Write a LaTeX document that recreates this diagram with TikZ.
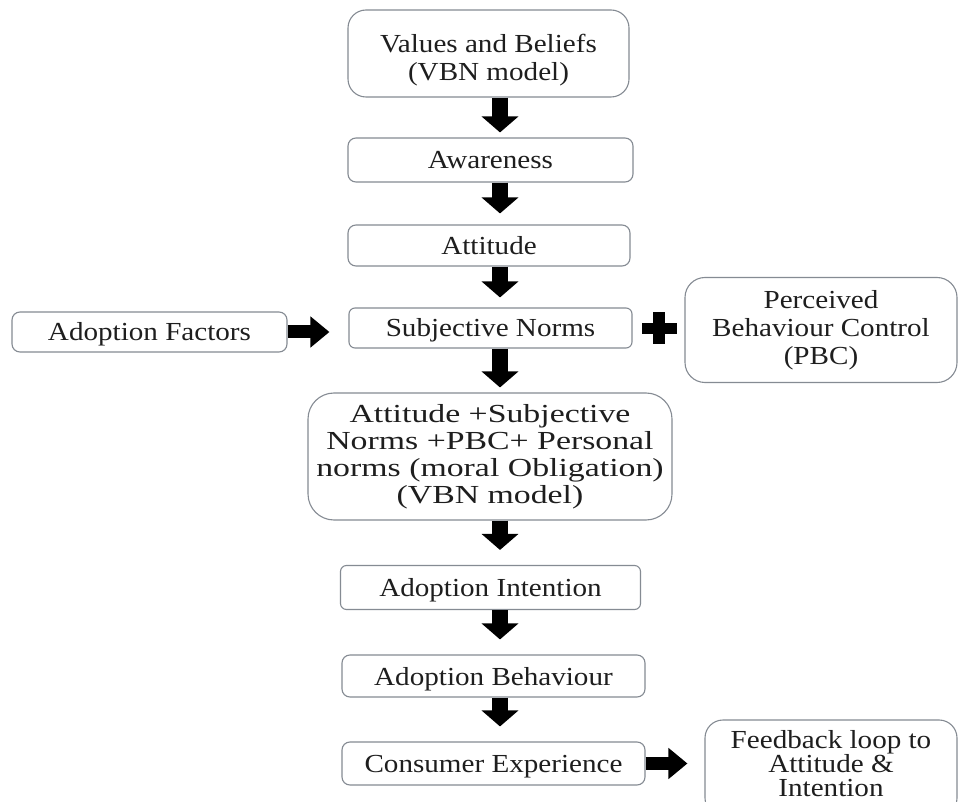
\documentclass[tikz,border=0pt]{standalone}
\usepackage{fontspec}
\setmainfont{Liberation Serif}[FakeStretch=1.12]
\newfontfamily\widefont{Liberation Serif}[FakeStretch=1.3]
\usetikzlibrary{arrows.meta,calc}
\definecolor{bordergray}{HTML}{858B93}
\definecolor{txt}{HTML}{1E1E1E}
\begin{document}
\begin{tikzpicture}[x=1pt,y=-1pt,
  box/.style={draw=bordergray, line width=1.1pt, fill=white, rounded corners=8pt,
    align=center, inner sep=0pt, text=txt, font=\fontsize{26}{28}\selectfont},
  oneline/.style={text height=20pt, text depth=2pt},
  varrow/.style={line width=16pt, draw=black, -{Triangle[length=16pt,width=36pt]}},
  harrow/.style={line width=13pt, draw=black, -{Triangle[length=19pt,width=30pt]}}]
\useasboundingbox (0,0) rectangle (959,802);
\clip (0,0) rectangle (959,802);
\fill[white] (0,0) rectangle (959,802);

\node[box, rounded corners=18pt, minimum width=281pt, minimum height=87pt] (vb) at (488.5,53.5) {\rule{0pt}{32pt}Values and Beliefs\\(VBN model)};
\node[box, oneline, minimum width=285pt, minimum height=44pt] (aw) at (490.5,160) {Awareness};
\node[box, oneline, minimum width=282pt, minimum height=41pt] (at) at (489,245.5) {Attitude};
\node[box, oneline, rounded corners=6pt, minimum width=283pt, minimum height=40pt] (sn) at (490.5,328) {Subjective Norms};
\node[box, oneline, minimum width=275pt, minimum height=40pt] (af) at (149.5,332) {Adoption Factors};
\node[box, rounded corners=20pt, minimum width=272pt, minimum height=105pt] (pbc) at (821,330) {Perceived\\Behaviour Control\\(PBC)};
\node[box, rounded corners=26pt, minimum width=364pt, minimum height=127pt, font=\widefont\fontsize{26}{27}\selectfont] (comb) at (490,456.5) {Attitude +Subjective\\Norms +PBC+ Personal\\norms (moral Obligation)\\(VBN model)};
\node[box, oneline, rounded corners=6pt, minimum width=300pt, minimum height=44pt] (ai) at (490.5,587.5) {Adoption Intention};
\node[box, oneline, minimum width=303pt, minimum height=42pt] (ab) at (493.5,676) {Adoption Behaviour};
\node[box, oneline, minimum width=303pt, minimum height=43pt] (ce) at (493.5,763.5) {Consumer Experience};
\node[box, rounded corners=18pt, minimum width=252pt, minimum height=96pt, font=\fontsize{26}{24}\selectfont] (fb) at (831,768) {Feedback loop to\\Attitude \&\\Intention\rule[-9pt]{0pt}{9pt}};

\coordinate (ax) at (500,0);
\draw[varrow] (vb.south -| ax) -- ($(aw.north -| ax)+(0,-5)$);
\draw[varrow] (aw.south -| ax) -- ($(at.north -| ax)+(0,-11)$);
\draw[varrow] (at.south -| ax) -- ($(sn.north -| ax)+(0,-10)$);
\draw[varrow] (sn.south -| ax) -- ($(comb.north -| ax)+(0,-5)$);
\draw[varrow] (comb.south -| ax) -- ($(ai.north -| ax)+(0,-15)$);
\draw[varrow] (ai.south -| ax) -- ($(ab.north -| ax)+(0,-15)$);
\draw[varrow] (ab.south -| ax) -- ($(ce.north -| ax)+(0,-15)$);
\draw[harrow] (af.east) -- ($(sn.west |- af.east)+(-19,0)$);
\draw[harrow] (ce.east) -- ($(fb.west |- ce.east)+(-17,0)$);

\fill[black] (653,312) rectangle (665,344);
\fill[black] (642,323) rectangle (677,334);
\end{tikzpicture}
\end{document}
